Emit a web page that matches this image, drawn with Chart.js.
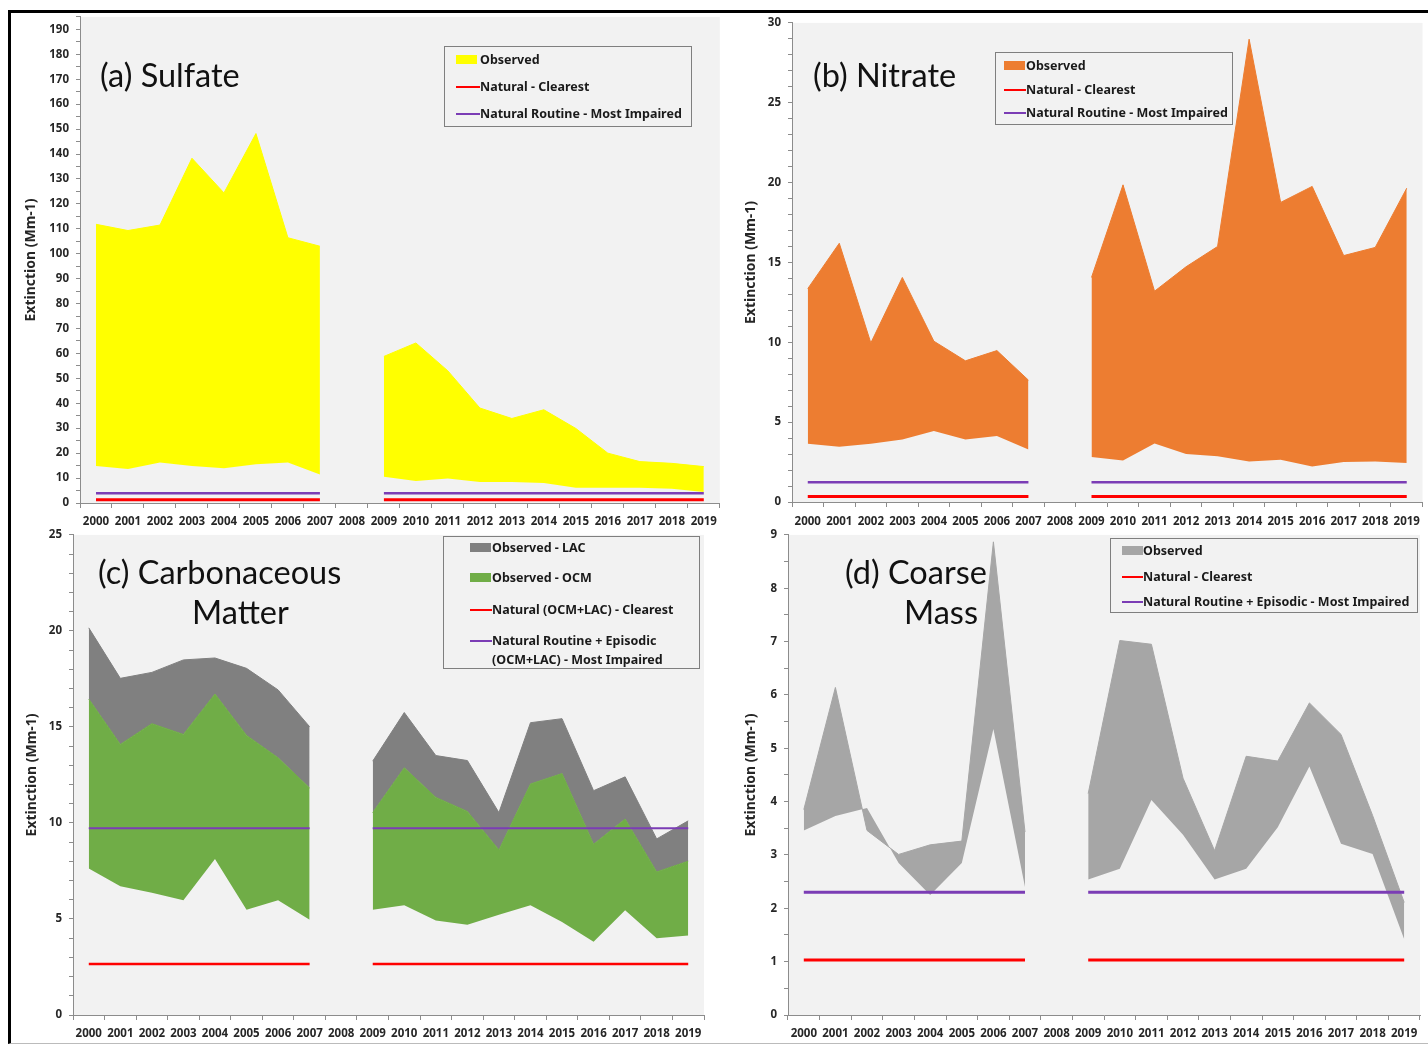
<!DOCTYPE html>
<html>
<head>
<meta charset="utf-8">
<script src="https://cdn.jsdelivr.net/npm/chart.js@4.4.0/dist/chart.umd.min.js"></script>
<style>
  body { margin: 0; width: 1428px; height: 1044px; background: #fff; position: relative; overflow: hidden; font-family: Lato, sans-serif; }
  .frame { position: absolute; left: 8px; top: 10px; width: 1420px; height: 1030px; border-top: 3px solid #000; border-left: 3px solid #000; border-bottom: 1px solid #bbb; }
  canvas { position: absolute; }
  .title { position: absolute; font: 32.5px Lato; color: #111; white-space: nowrap; line-height: 36px; }
  .legend { position: absolute; border: 1px solid #7f7f7f; box-sizing: border-box; }
  .legend .row { position: absolute; font: bold 12.5px 'Noto Sans', 'Liberation Sans', sans-serif; color: #1a1a1a; white-space: nowrap; line-height: 16px; }
  .legend .sym { position: absolute; }
</style>
</head>
<body>
<div class="frame"></div>

<canvas id="chart_a" width="710" height="527" style="left:14px;top:3px"></canvas>
<canvas id="chart_b" width="700" height="521" style="left:728px;top:9px"></canvas>
<canvas id="chart_c" width="700" height="523" style="left:14px;top:521px"></canvas>
<canvas id="chart_d" width="700" height="523" style="left:728px;top:521px"></canvas>

<!-- panel titles -->
<div class="title" style="left:100px;top:57px">(a) Sulfate</div>
<div class="title" style="left:813px;top:57px">(b) Nitrate</div>
<div class="title" style="left:98px;top:554px">(c) Carbonaceous</div>
<div class="title" style="left:192px;top:594px">Matter</div>
<div class="title" style="left:845px;top:554px">(d) Coarse</div>
<div class="title" style="left:904px;top:594px">Mass</div>

<!-- legends -->
<div class="legend" style="left:444px;top:46px;width:248px;height:81px">
  <span class="sym" style="left:11px;top:8px;width:21px;height:9px;background:#ffff00"></span>
  <span class="row" style="left:35px;top:5px">Observed</span>
  <span class="sym" style="left:11px;top:39px;width:24px;height:2px;background:#ff0000"></span>
  <span class="row" style="left:35px;top:32px">Natural - Clearest</span>
  <span class="sym" style="left:11px;top:66px;width:24px;height:2px;background:#7b3db5"></span>
  <span class="row" style="left:35px;top:59px">Natural Routine - Most Impaired</span>
</div>
<div class="legend" style="left:995px;top:52px;width:238px;height:73px">
  <span class="sym" style="left:8px;top:8px;width:21px;height:9px;background:#ed7d31"></span>
  <span class="row" style="left:30px;top:5px">Observed</span>
  <span class="sym" style="left:8px;top:36px;width:22px;height:2px;background:#ff0000"></span>
  <span class="row" style="left:30px;top:29px">Natural - Clearest</span>
  <span class="sym" style="left:8px;top:59px;width:22px;height:2px;background:#7b3db5"></span>
  <span class="row" style="left:30px;top:52px">Natural Routine - Most Impaired</span>
</div>
<div class="legend" style="left:443px;top:536px;width:257px;height:133px">
  <span class="sym" style="left:26px;top:6px;width:21px;height:9px;background:#808080"></span>
  <span class="row" style="left:48px;top:3px">Observed - LAC</span>
  <span class="sym" style="left:26px;top:36px;width:21px;height:9px;background:#70ad47"></span>
  <span class="row" style="left:48px;top:33px">Observed - OCM</span>
  <span class="sym" style="left:26px;top:72px;width:22px;height:2px;background:#ff0000"></span>
  <span class="row" style="left:48px;top:65px">Natural (OCM+LAC) - Clearest</span>
  <span class="sym" style="left:26px;top:103px;width:22px;height:2px;background:#7b3db5"></span>
  <span class="row" style="left:48px;top:96px">Natural Routine + Episodic</span>
  <span class="row" style="left:48px;top:115px">(OCM+LAC) - Most Impaired</span>
</div>
<div class="legend" style="left:1110px;top:538px;width:308px;height:75px">
  <span class="sym" style="left:11px;top:7px;width:21px;height:9px;background:#a6a6a6"></span>
  <span class="row" style="left:32px;top:4px">Observed</span>
  <span class="sym" style="left:11px;top:37px;width:21px;height:2px;background:#ff0000"></span>
  <span class="row" style="left:32px;top:30px">Natural - Clearest</span>
  <span class="sym" style="left:11px;top:62px;width:21px;height:2px;background:#7b3db5"></span>
  <span class="row" style="left:32px;top:55px">Natural Routine + Episodic - Most Impaired</span>
</div>

<script>
const years = ['2000', '2001', '2002', '2003', '2004', '2005', '2006', '2007', '2008', '2009',
  '2010', '2011', '2012', '2013', '2014', '2015', '2016', '2017', '2018', '2019']

// (a) Sulfate
const sulfate_top = [111.8, 109.3, 111.5, 138.3, 124.4, 148.2, 106.4, 103, null, 58.8, 64.2, 53, 38.1, 33.9, 37.4, 29.9, 20, 16.6, 15.9, 14.6]
const sulfate_bottom = [14.8, 13.6, 16.2, 14.8, 13.9, 15.5, 16.2, 11.4, null, 10.5, 8.8, 9.8, 8.4, 8.4, 8, 6.1, 6.1, 6.1, 5.7, 4.4]
const sulfate_clearest = [1.3, 1.3, 1.3, 1.3, 1.3, 1.3, 1.3, 1.3, null, 1.3, 1.3, 1.3, 1.3, 1.3, 1.3, 1.3, 1.3, 1.3, 1.3, 1.3]
const sulfate_impaired = [3.9, 3.9, 3.9, 3.9, 3.9, 3.9, 3.9, 3.9, null, 3.9, 3.9, 3.9, 3.9, 3.9, 3.9, 3.9, 3.9, 3.9, 3.9, 3.9]
const sulfate_axis = [0, 195, 5, 10] // min, max, minor step, labelled step

// (b) Nitrate
const nitrate_top = [13.36, 16.2, 9.96, 14.06, 10.07, 8.84, 9.48, 7.63, null, 14.06, 19.86, 13.2, 14.73, 16.0, 28.98, 18.76, 19.76, 15.43, 15.94, 19.65]
const nitrate_bottom = [3.65, 3.46, 3.65, 3.92, 4.45, 3.92, 4.13, 3.29, null, 2.82, 2.6, 3.67, 3.0, 2.86, 2.54, 2.65, 2.23, 2.5, 2.54, 2.44]
const nitrate_clearest = [0.34, 0.34, 0.34, 0.34, 0.34, 0.34, 0.34, 0.34, null, 0.34, 0.34, 0.34, 0.34, 0.34, 0.34, 0.34, 0.34, 0.34, 0.34, 0.34]
const nitrate_impaired = [1.23, 1.23, 1.23, 1.23, 1.23, 1.23, 1.23, 1.23, null, 1.23, 1.23, 1.23, 1.23, 1.23, 1.23, 1.23, 1.23, 1.23, 1.23, 1.23]
const nitrate_axis = [0, 30, 1, 5]

// (c) Carbonaceous matter : OCM band, LAC stacked on top of it
const carbon_total = [20.16, 17.53, 17.84, 18.49, 18.59, 18.05, 16.93, 15.01, null, 13.22, 15.75, 13.51, 13.25, 10.54, 15.22, 15.43, 11.68, 12.4, 9.17, 10.11]
const ocm_top = [16.45, 14.09, 15.17, 14.61, 16.71, 14.56, 13.39, 11.82, null, 10.54, 12.87, 11.33, 10.6, 8.59, 12.03, 12.57, 8.89, 10.2, 7.45, 8.01]
const ocm_bottom = [7.63, 6.7, 6.37, 5.97, 8.12, 5.48, 5.97, 4.96, null, 5.48, 5.71, 4.92, 4.7, 5.22, 5.71, 4.84, 3.82, 5.45, 4.0, 4.14]
const carbon_clearest = [2.65, 2.65, 2.65, 2.65, 2.65, 2.65, 2.65, 2.65, null, 2.65, 2.65, 2.65, 2.65, 2.65, 2.65, 2.65, 2.65, 2.65, 2.65, 2.65]
const carbon_impaired = [9.72, 9.72, 9.72, 9.72, 9.72, 9.72, 9.72, 9.72, null, 9.72, 9.72, 9.72, 9.72, 9.72, 9.72, 9.72, 9.72, 9.72, 9.72, 9.72]
const carbon_axis = [0, 25, 1, 5]

// (d) Coarse mass (the two observed edges cross in places)
const coarse_impaired_obs = [3.85, 6.14, 3.46, 3.01, 3.19, 3.26, 8.87, 3.43, null, 4.15, 7.02, 6.95, 4.44, 3.08, 4.85, 4.76, 5.85, 5.26, 3.74, 2.11]
const coarse_clearest_obs = [3.46, 3.73, 3.88, 2.85, 2.25, 2.85, 5.36, 2.4, null, 2.54, 2.74, 4.03, 3.38, 2.54, 2.74, 3.52, 4.66, 3.21, 3.02, 1.42]
const coarse_clearest = [1.03, 1.03, 1.03, 1.03, 1.03, 1.03, 1.03, 1.03, null, 1.03, 1.03, 1.03, 1.03, 1.03, 1.03, 1.03, 1.03, 1.03, 1.03, 1.03]
const coarse_impaired = [2.3, 2.3, 2.3, 2.3, 2.3, 2.3, 2.3, 2.3, null, 2.3, 2.3, 2.3, 2.3, 2.3, 2.3, 2.3, 2.3, 2.3, 2.3, 2.3]
const coarse_axis = [0, 9, 0.5, 1]

const axis_grey = '#8c8c8c'
const label_colour = '#262626'
const label_font = "'Noto Sans', 'Liberation Sans', sans-serif"
const red = '#ff0000'
const purple = '#7b3db5'

// grey plot area like the excel default
const plot_bg = {
  id: 'plot_bg',
  beforeDraw: function (chart) {
    let a = chart.chartArea
    let ctx = chart.ctx
    ctx.save()
    ctx.fillStyle = '#f2f2f2'
    ctx.fillRect(a.left, a.top, a.right - a.left, a.bottom - a.top)
    ctx.restore()
  }
}

function band(data, colour, target) {
  return {
    data: data,
    borderWidth: target === undefined ? 0 : 1,
    borderColor: target === undefined ? 'rgba(0,0,0,0)' : colour,
    backgroundColor: colour,
    pointRadius: 0,
    fill: target === undefined ? false : { target: target },
    order: 1
  }
}

function hline(data, colour, width) {
  return {
    data: data,
    borderColor: colour,
    borderWidth: width,
    borderCapStyle: 'butt',
    pointRadius: 0,
    fill: false,
    order: 0
  }
}

function draw_panel(id, datasets, axis, sz) {
  let ctx = document.getElementById(id).getContext('2d')
  return new Chart(ctx, {
    type: 'line',
    data: { labels: years, datasets: datasets },
    plugins: [plot_bg],
    options: {
      responsive: false,
      animation: false,
      layout: { padding: { top: 0, right: sz.right, left: 0, bottom: 0 } },
      plugins: { legend: { display: false }, tooltip: { enabled: false } },
      scales: {
        x: {
          offset: true,
          grid: { offset: true, drawOnChartArea: false, tickLength: 5, color: axis_grey },
          border: { color: axis_grey },
          ticks: { autoSkip: false, maxRotation: 0, padding: sz.lp, color: label_colour, font: { family: label_font, weight: 'bold', size: 11.5 } },
          afterFit: function (s) { s.height = sz.xh }
        },
        y: {
          min: axis[0],
          max: axis[1],
          grid: { drawOnChartArea: false, tickLength: 4, color: axis_grey },
          border: { color: axis_grey },
          ticks: {
            stepSize: axis[2],
            autoSkip: false,
            maxTicksLimit: 100,
            padding: 7,
            color: label_colour,
            font: { family: label_font, weight: 'bold', size: 11.5 },
            callback: function (v) {
              let k = v / axis[3]
              return Math.abs(k - Math.round(k)) < 1e-6 ? String(Math.round(v)) : ''
            }
          },
          title: {
            display: true,
            text: 'Extinction (Mm-1)',
            color: label_colour,
            font: { family: label_font, weight: 'bold', size: 14 },
            padding: { top: sz.tp, bottom: 0 }
          },
          afterFit: function (s) { s.width = sz.yw }
        }
      }
    }
  })
}

draw_panel('chart_a', [
  band(sulfate_bottom, '#ffff00'),
  band(sulfate_top, '#ffff00', 0),
  hline(sulfate_clearest, red, 3),
  hline(sulfate_impaired, purple, 2.5)
], sulfate_axis, { right: 2, xh: 27, yw: 66, tp: 9, lp: 7 })

draw_panel('chart_b', [
  band(nitrate_bottom, '#ed7d31'),
  band(nitrate_top, '#ed7d31', 0),
  hline(nitrate_clearest, red, 3),
  hline(nitrate_impaired, purple, 2.5)
], nitrate_axis, { right: 4, xh: 28, yw: 64, tp: 15, lp: 8 })

draw_panel('chart_c', [
  band(ocm_bottom, '#70ad47'),
  band(ocm_top, '#70ad47', 0),
  band(carbon_total, '#808080', 1),
  hline(carbon_clearest, red, 2.5),
  hline(carbon_impaired, purple, 2)
], carbon_axis, { right: 10, xh: 29, yw: 59, tp: 10, lp: 7 })

draw_panel('chart_d', [
  band(coarse_clearest_obs, '#a6a6a6'),
  band(coarse_impaired_obs, '#a6a6a6', 0),
  hline(coarse_clearest, red, 3),
  hline(coarse_impaired, purple, 3)
], coarse_axis, { right: 8, xh: 29, yw: 60, tp: 15, lp: 7 })
</script>
</body>
</html>
